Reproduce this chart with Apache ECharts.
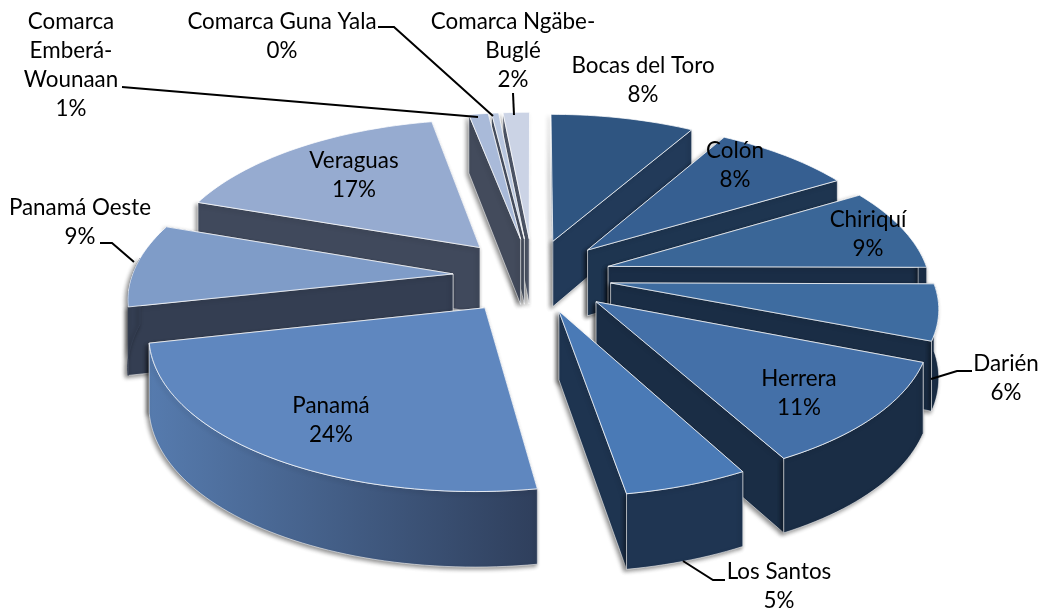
<!DOCTYPE html>
<html><head><meta charset="utf-8">
<style>html,body{margin:0;padding:0;background:#fff}#c{width:1044px;height:611px}</style>
<script src="https://cdn.jsdelivr.net/npm/echarts@6/dist/echarts.min.js"></script>
</head><body><div id="c"></div>
<script>
const provinces = ['Bocas del Toro','Colón','Chiriquí','Darién','Herrera','Los Santos','Panamá','Panamá Oeste','Veraguas','Comarca Emberá-Wounaan','Comarca Guna Yala','Comarca Ngäbe-Buglé'];
const shares = [8.2,8.1,8.8,6.1,11.2,5.1,23.9,9.0,16.6,1.1,0.4,1.5];
const percentLabels = ['8%','8%','9%','6%','11%','5%','24%','9%','17%','1%','0%','2%'];
const labelLines = [['Bocas del Toro'],['Colón'],['Chiriquí'],['Darién'],['Herrera'],['Los Santos'],['Panamá'],['Panamá Oeste'],['Veraguas'],['Comarca','Emberá-','Wounaan'],['Comarca Guna Yala'],['Comarca Ngäbe-','Buglé']];

// styling / layout
const topColors = ['#2F5581','#365F91','#3A6697','#3E6CA0','#4470A8','#4A7AB6','#5F87BF','#7F9CC8','#96ABD0','#A9BAD9','#B9C7E0','#CBD3E5'];
const wallFrom = ['#223A59','#1E3550','#1A2D46','#1A2D45','#1A2D45','#1F3552','#567BAE','#343E52','#40495C','#434B5C','#4A5263','#50586A'];
const wallTo   = ['#223A59','#1E3550','#1A2D46','#1A2D45','#1A2D45','#1F3552','#2F3F5C','#343E52','#40495C','#434B5C','#4A5263','#50586A'];
const sideColors=['#223A59','#1E3550','#1A2D46','#1A2D45','#1A2D45','#1E3450','#2F3F5C','#343E52','#40495C','#434B5C','#4A5263','#50586A'];
const explode = [.25,.25,.245,.245,.26,.25,.26,.25,.26,.26,.26,.26];
const labelAt = [[643,66],[735,151],[868,220],[1006,364],[799,379],[779,572],[331,406],[80,208],[354,161],[71,22],[282,22],[513,22]];
const leaders = [null,null,null,[[972,371],[957,371],[931,379]],null,[[725,580],[713,580],[683,561]],null,[[100,243],[112,243],[134,262]],null,[[122,87],[478,117]],[[378,27],[394,27],[493,116]],[[513,93],[514,115]]];
const CX=533, CY=276, R=321, TILT_BACK=148, TILT_FRONT=143, PERSP=.135, PERSP2=-.02, LINE=29;

const total = shares.reduce((a,b)=>a+b,0);
const rad = d=>d*Math.PI/180;
function project(gx,gy){const w=1+PERSP*gy+PERSP2*gy*gy;return [CX+R*gx/w, CY-(gy>0?TILT_BACK:TILT_FRONT)*gy/w];}
function depth(gy){return 67-7*gy;}
const slices=[]; let cum=0;
shares.forEach((v,i)=>{const a0=cum/total*360; cum+=v; const a1=cum/total*360; const m=rad((a0+a1)/2);
  slices.push({a0,a1,ax:explode[i]*Math.sin(m),ay:explode[i]*Math.cos(m),m});});
// back slices first
const order = slices.map((s,i)=>i).sort((a,b)=>(slices[b].ay+.6*Math.cos(slices[b].m))-(slices[a].ay+.6*Math.cos(slices[a].m)));
const rank = {}; order.forEach((idx,r)=>rank[idx]=r);

function renderItem(params,api){
  const i=api.value(2), s=slices[i], base=(rank[i]+1)*10;
  const top=[], bot=[], faces=[];
  const n=Math.max(4,Math.ceil((s.a1-s.a0)/1.5));
  for(let k=0;k<=n;k++){const t=rad(s.a0+(s.a1-s.a0)*k/n);
    const gx=s.ax+Math.sin(t), gy=s.ay+Math.cos(t);
    const p=project(gx,gy); top.push(p); bot.push([p[0],p[1]+depth(gy)]); faces.push(Math.cos(t)<0.12);}
  const ap=project(s.ax,s.ay), apB=[ap[0],ap[1]+depth(s.ay)];
  const shadow={shadowBlur:4,shadowColor:'rgba(0,0,0,.45)',shadowOffsetX:-2,shadowOffsetY:2};
  const edge='rgba(255,255,255,.55)';
  const poly=(pts,fill,z,extra)=>({type:'polygon',z2:base+z,shape:{points:pts},style:Object.assign({fill:fill,stroke:edge,lineWidth:1},extra||{})});
  const grad={type:'linear',x:0,y:0,x2:1,y2:0,colorStops:[{offset:0,color:wallFrom[i]},{offset:1,color:wallTo[i]}]};
  const startFront=Math.sin(rad(s.a0))<0, endFront=Math.sin(rad(s.a1))>0;
  const kids=[];
  // back-facing radial walls sit beneath the front-facing ones
  kids.push(poly([ap,top[0],bot[0],apB],sideColors[i],startFront?2:1,shadow));
  kids.push(poly([ap,top[n],bot[n],apB],sideColors[i],endFront?2:1,shadow));
  // outer wall: only the part that faces the viewer
  const tv=top.filter((_,k)=>faces[k]), bv=bot.filter((_,k)=>faces[k]);
  const sideOn=s.a0>180 && s.a1>270; // grazing wall on the far left: no highlight
  if(tv.length>1) kids.push(poly(tv.concat(bv.slice().reverse()),grad,3,Object.assign({},shadow,sideOn?{stroke:wallFrom[i]}:{})));
  kids.push(poly([ap].concat(top),topColors[i],4,{stroke:'rgba(255,255,255,.75)'}));
  return {type:'group',children:kids};
}
function renderNotes(params,api){
  const i=api.value(2), kids=[];
  const lines=labelLines[i].concat([percentLabels[i]]);
  const at=labelAt[i];
  lines.forEach((t,k)=>kids.push({type:'text',z2:500,style:{text:t,x:at[0],y:at[1]+k*LINE,align:'center',verticalAlign:'middle',fill:'#000',font:'22.4px Lato'}}));
  if(leaders[i]) kids.push({type:'polyline',z2:490,shape:{points:leaders[i]},style:{fill:'none',stroke:'#000',lineWidth:2}});
  return {type:'group',children:kids};
}
const rows=provinces.map((p,i)=>[p,shares[i],i]);
const chart=echarts.init(document.getElementById('c'),null,{renderer:'canvas'});
chart.setOption({animation:false,backgroundColor:'#fff',
  series:[
   {type:'custom',coordinateSystem:'none',renderItem:renderItem,data:rows,silent:true,z:1},
   {type:'custom',coordinateSystem:'none',renderItem:renderNotes,data:rows,silent:true,z:2}
  ]});
</script></body></html>
